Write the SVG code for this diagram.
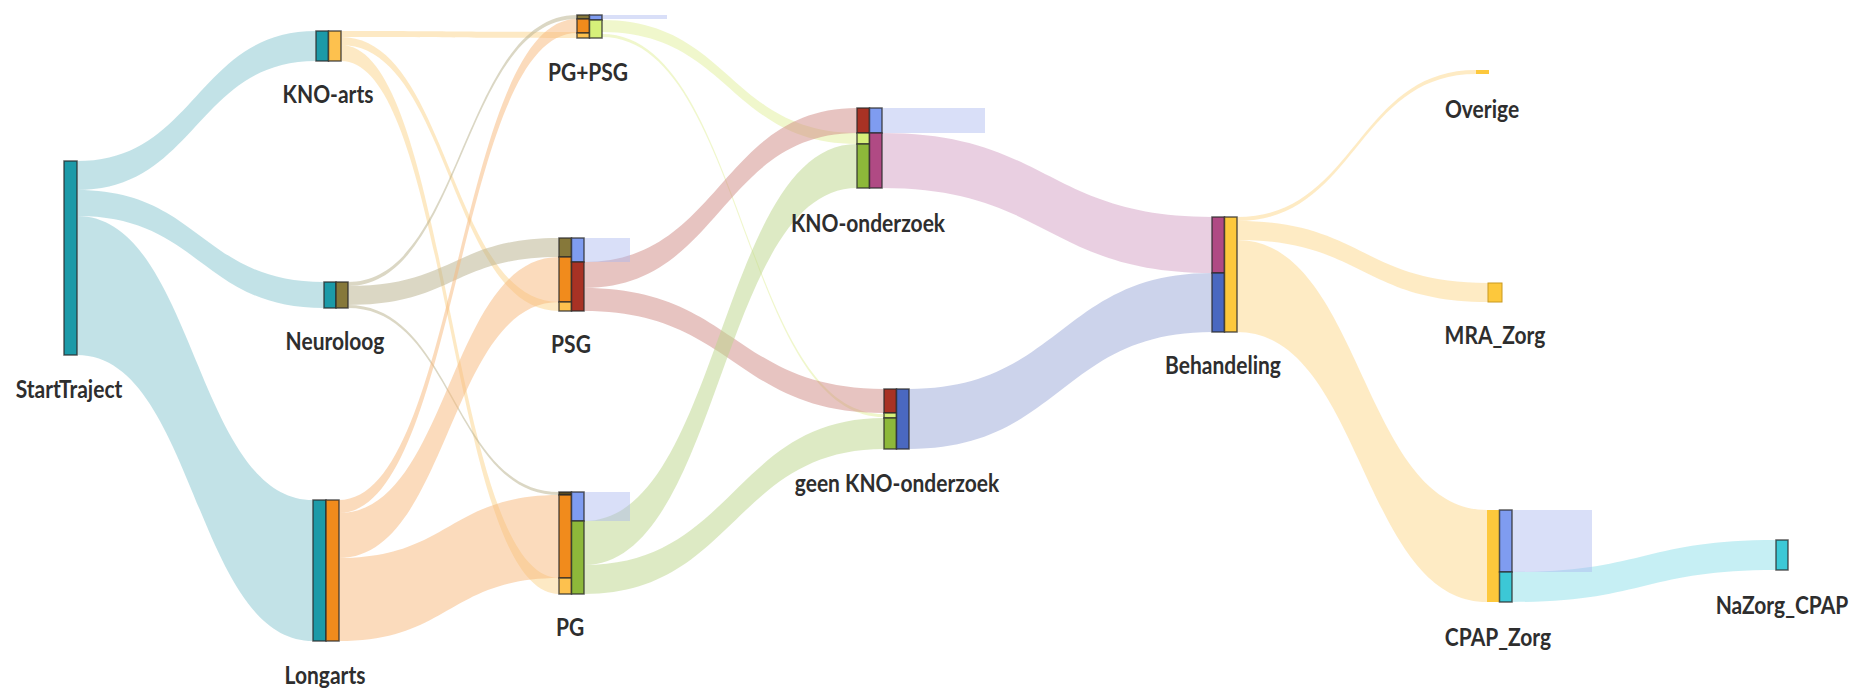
<svg xmlns="http://www.w3.org/2000/svg" width="1855" height="689" viewBox="0 0 1855 689">
<style>
.bg{fill:#ffffff}
.lk{stroke:none}
.teal-l{fill:#8fcbd3;fill-opacity:.55}
.yel-l{fill:#fcd48a;fill-opacity:.5}
.oli-l{fill:#b8b08a;fill-opacity:.5}
.ora-l{fill:#f7b77a;fill-opacity:.5}
.lim-l{fill:#e2f09a;fill-opacity:.5}
.red-l{fill:#d08a84;fill-opacity:.5}
.grn-l{fill:#bcd68a;fill-opacity:.5}
.mag-l{fill:#d4a0c4;fill-opacity:.5}
.blu-l{fill:#9aa8d8;fill-opacity:.5}
.byl-l{fill:#fdd88a;fill-opacity:.5}
.cya-l{fill:#8ee0ea;fill-opacity:.5}
.drop{fill:#aab8f0;fill-opacity:.45}
.n{stroke:#2a2a2a;stroke-opacity:.75;stroke-width:1.5}
.teal{fill:#1c9aa8}
.yel{fill:#fdc14e}
.oli{fill:#86783a}
.dol{fill:#5a4a20}
.ora{fill:#f18b1c}
.lim{fill:#d6f07a}
.blu{fill:#7f9cf0}
.red{fill:#a83224}
.grn{fill:#8db83a}
.mag{fill:#b04a84}
.dbl{fill:#4a68c0}
.byl{fill:#fdc83c}
.cya{fill:#3cc8d6}
.lbl{font-family:Lato,"Liberation Sans",sans-serif;font-size:21px;font-weight:700;fill:#2e2e2e;text-anchor:middle}
</style>
<rect class="bg" x="0" y="0" width="1855" height="689"/>
<g id="connectors">
<path class="lk teal-l" d="M77 161 C196.5 161 196.5 31 316 31 L316 61 C196.5 61 196.5 190 77 190Z"/>
<path class="lk teal-l" d="M77 190 C200.5 190 200.5 282 324 282 L324 308 C200.5 308 200.5 216 77 216Z"/>
<path class="lk teal-l" d="M77 216 C195 216 195 500 313 500 L313 641 C195 641 195 355 77 355Z"/>
<path class="lk yel-l" d="M341 31 C459 31 459 32 577 32 L577 38 C459 38 459 37 341 37Z"/>
<path class="lk yel-l" d="M341 37 C450 37 450 302 559 302 L559 311 C450 311 450 45 341 45Z"/>
<path class="lk yel-l" d="M341 45 C450 45 450 578 559 578 L559 594 C450 594 450 61 341 61Z"/>
<path class="lk oli-l" d="M348 282 C462.5 282 462.5 15 577 15 L577 19 C462.5 19 462.5 286 348 286Z"/>
<path class="lk oli-l" d="M348 286 C453.5 286 453.5 238 559 238 L559 257 C453.5 257 453.5 305 348 305Z"/>
<path class="lk oli-l" d="M348 305 C453.5 305 453.5 492 559 492 L559 495 C453.5 495 453.5 308 348 308Z"/>
<path class="lk ora-l" d="M339 500 C458 500 458 19 577 19 L577 33 C458 33 458 513 339 513Z"/>
<path class="lk ora-l" d="M339 513 C449 513 449 257 559 257 L559 302 C449 302 449 558 339 558Z"/>
<path class="lk ora-l" d="M339 558 C449 558 449 495 559 495 L559 578 C449 578 449 641 339 641Z"/>
<path class="lk lim-l" d="M602 20 C729.5 20 729.5 133 857 133 L857 144 C729.5 144 729.5 32 602 32Z"/>
<path class="lk lim-l" d="M602 34 C743 34 743 414 884 414 L884 417 C743 417 743 37 602 37Z"/>
<path class="lk red-l" d="M584 262 C720.5 262 720.5 108 857 108 L857 133 C720.5 133 720.5 288 584 288Z"/>
<path class="lk red-l" d="M584 288 C734 288 734 389 884 389 L884 413 C734 413 734 311 584 311Z"/>
<path class="lk grn-l" d="M584 521 C720.5 521 720.5 144 857 144 L857 188 C720.5 188 720.5 565 584 565Z"/>
<path class="lk grn-l" d="M584 565 C734 565 734 418 884 418 L884 449 C734 449 734 594 584 594Z"/>
<path class="lk mag-l" d="M882 133 C1047 133 1047 217 1212 217 L1212 273 C1047 273 1047 188 882 188Z"/>
<path class="lk blu-l" d="M909 389 C1060.5 389 1060.5 273 1212 273 L1212 332 C1060.5 332 1060.5 449 909 449Z"/>
<path class="lk byl-l" d="M1237 217 C1356.5 217 1356.5 70 1476 70 L1476 74 C1356.5 74 1356.5 221 1237 221Z"/>
<path class="lk byl-l" d="M1237 221 C1362.5 221 1362.5 283 1488 283 L1488 302 C1362.5 302 1362.5 240 1237 240Z"/>
<path class="lk byl-l" d="M1237 240 C1362 240 1362 510 1487 510 L1487 602 C1362 602 1362 332 1237 332Z"/>
<path class="lk cya-l" d="M1512 572 C1644 572 1644 540 1776 540 L1776 570 C1644 570 1644 602 1512 602Z"/>
<rect class="drop" x="602" y="15" width="65" height="4"/>
<rect class="drop" x="584" y="238" width="46" height="24"/>
<rect class="drop" x="584" y="492" width="46" height="29"/>
<rect class="drop" x="882" y="108" width="103" height="25"/>
<rect class="drop" x="1512" y="510" width="80" height="62"/>
</g>
<g id="StartTraject">
<rect class="n teal" x="64" y="161" width="13" height="194"/>
<text class="lbl" transform="translate(69 398) scale(1 1.2)">StartTraject</text>
</g>
<g id="KNO-arts">
<rect class="n teal" x="316" y="31" width="12.5" height="30"/>
<rect class="n yel" x="328.5" y="31" width="12.5" height="30"/>
<text class="lbl" transform="translate(328 103) scale(1 1.2)">KNO-arts</text>
</g>
<g id="Neuroloog">
<rect class="n teal" x="324" y="282" width="12" height="26"/>
<rect class="n oli" x="336" y="282" width="12" height="26"/>
<text class="lbl" transform="translate(335 350) scale(1 1.2)">Neuroloog</text>
</g>
<g id="Longarts">
<rect class="n teal" x="313" y="500" width="13" height="141"/>
<rect class="n ora" x="326" y="500" width="13" height="141"/>
<text class="lbl" transform="translate(325 684) scale(1 1.2)">Longarts</text>
</g>
<g id="PG-PSG">
<rect class="n oli" x="577" y="15" width="12.5" height="4"/>
<rect class="n ora" x="577" y="19" width="12.5" height="14"/>
<rect class="n yel" x="577" y="33" width="12.5" height="5"/>
<rect class="n blu" x="589.5" y="15" width="12.5" height="5"/>
<rect class="n lim" x="589.5" y="20" width="12.5" height="18"/>
<text class="lbl" transform="translate(588 81) scale(1 1.2)">PG+PSG</text>
</g>
<g id="PSG">
<rect class="n oli" x="559" y="238" width="12.5" height="19"/>
<rect class="n ora" x="559" y="257" width="12.5" height="45"/>
<rect class="n yel" x="559" y="302" width="12.5" height="9"/>
<rect class="n blu" x="571.5" y="238" width="12.5" height="24"/>
<rect class="n red" x="571.5" y="262" width="12.5" height="49"/>
<text class="lbl" transform="translate(571 353) scale(1 1.2)">PSG</text>
</g>
<g id="PG">
<rect class="n dol" x="559" y="492" width="12.5" height="3"/>
<rect class="n ora" x="559" y="495" width="12.5" height="83"/>
<rect class="n yel" x="559" y="578" width="12.5" height="16"/>
<rect class="n blu" x="571.5" y="492" width="12.5" height="29"/>
<rect class="n grn" x="571.5" y="521" width="12.5" height="73"/>
<text class="lbl" transform="translate(570 636) scale(1 1.2)">PG</text>
</g>
<g id="KNO-onderzoek">
<rect class="n red" x="857" y="108" width="12.5" height="25"/>
<rect class="n lim" x="857" y="133" width="12.5" height="11"/>
<rect class="n grn" x="857" y="144" width="12.5" height="44"/>
<rect class="n blu" x="869.5" y="108" width="12.5" height="25"/>
<rect class="n mag" x="869.5" y="133" width="12.5" height="55"/>
<text class="lbl" transform="translate(868 232) scale(1 1.2)">KNO-onderzoek</text>
</g>
<g id="geen-KNO-onderzoek">
<rect class="n red" x="884" y="389" width="12.5" height="24"/>
<rect class="n lim" x="884" y="413" width="12.5" height="5"/>
<rect class="n grn" x="884" y="418" width="12.5" height="31"/>
<rect class="n dbl" x="896.5" y="389" width="12.5" height="60"/>
<text class="lbl" transform="translate(897 492) scale(1 1.2)">geen KNO-onderzoek</text>
</g>
<g id="Behandeling">
<rect class="n mag" x="1212" y="217" width="12.5" height="56"/>
<rect class="n dbl" x="1212" y="273" width="12.5" height="59"/>
<rect class="n byl" x="1224.5" y="217" width="12.5" height="115"/>
<text class="lbl" transform="translate(1223 374) scale(1 1.2)">Behandeling</text>
</g>
<g id="Overige">
<rect class="byl" x="1476" y="70" width="13" height="4"/>
<text class="lbl" transform="translate(1482 118) scale(1 1.2)">Overige</text>
</g>
<g id="MRA_Zorg">
<rect class="byl" x="1488" y="283" width="14" height="19" stroke="#c99a20" stroke-width="1"/>
<text class="lbl" transform="translate(1495 344) scale(1 1.2)">MRA_Zorg</text>
</g>
<g id="CPAP_Zorg">
<rect class="byl" x="1487" y="510" width="12.5" height="92"/>
<rect class="n blu" x="1499.5" y="510" width="12.5" height="62"/>
<rect class="n cya" x="1499.5" y="572" width="12.5" height="30"/>
<text class="lbl" transform="translate(1498 646) scale(1 1.2)">CPAP_Zorg</text>
</g>
<g id="NaZorg_CPAP">
<rect class="n cya" x="1776" y="540" width="12" height="30"/>
<text class="lbl" transform="translate(1782 614) scale(1 1.2)">NaZorg_CPAP</text>
</g>
</svg>
